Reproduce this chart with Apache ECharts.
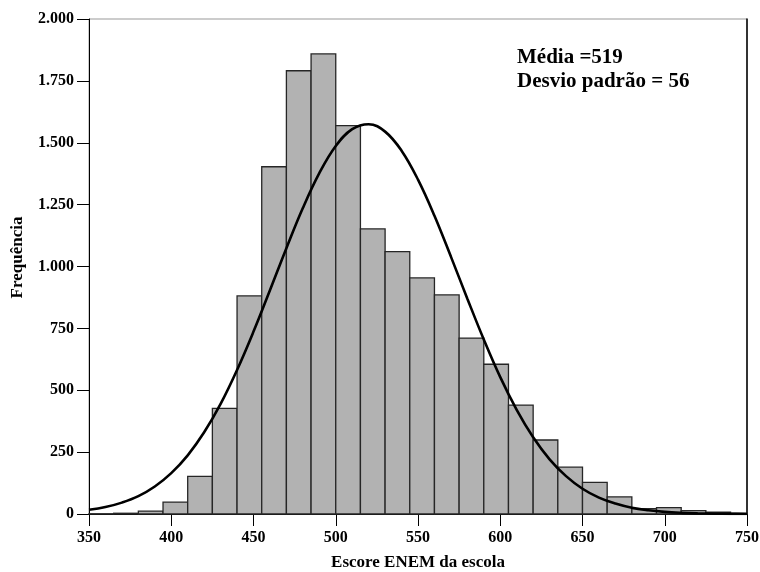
<!DOCTYPE html>
<html>
<head>
<meta charset="utf-8">
<script src="https://cdn.jsdelivr.net/npm/echarts@6/dist/echarts.min.js"></script>
<style>html,body{margin:0;padding:0;background:#fff;}#c{width:760px;height:572px;}</style>
</head>
<body>
<div id="c"></div>
<script>
// Histogram bins (start of each 15-point bin) and frequencies
const binWidth = 15;
const binStarts = [350,365,380,395,410,425,440,455,470,485,500,515,530,545,560,575,590,605,620,635,650,665,680,695,710,725,740];
const binCounts = [1,3,12,48,152,427,881,1403,1791,1859,1569,1152,1060,954,885,711,605,440,299,189,128,69,22,26,14,7,3];

// Fitted normal curve (x, frequency)
const curveX = [350,360,370,380,390,400,410,420,430,440,450,460,470,480,490,500,510,520,530,540,550,560,570,580,590,600,610,620,630,640,650,660,670,680,690,700,710,720,730,740,750];
const curveY = [17,28,46,72,111,165,237,330,445,582,737,904,1074,1236,1377,1487,1555,1575,1545,1468,1351,1205,1040,870,705,553,421,310,221,153,102,66,42,25,15,8.5,4.7,2.5,1.3,0.7,0.3];

// Axis ticks
const xTicks = {min: 350, max: 750, interval: 50};
const yTicks = {min: 0, max: 2000, interval: 250};

const annotation = ['Média =519', 'Desvio padrão = 56'];
const xName = 'Escore ENEM da escola';
const yName = 'Frequência';

const serif = '"Liberation Serif", "DejaVu Serif", serif';

function fmt(v){
  if (v >= 1000) return Math.floor(v/1000) + '.' + String(v % 1000).padStart(3,'0');
  return String(v);
}

const histData = binStarts.map((s,i) => [s, s + binWidth, binCounts[i]]);
const curveData = curveX.map((x,i) => [x, curveY[i]]);

const chart = echarts.init(document.getElementById('c'), null, {renderer:'canvas'});
chart.setOption({
  backgroundColor: '#fff',
  animation: false,
  grid: {left: 89, right: 13, top: 19, bottom: 58, outerBoundsMode: 'none', containLabel: false,
         show: true, borderColor: '#999', borderWidth: 1, backgroundColor: 'transparent'},
  xAxis: {
    type: 'value', min: xTicks.min, max: xTicks.max, interval: xTicks.interval,
    name: xName, nameLocation: 'middle', nameGap: 40, nameMoveOverlap: false,
    nameTextStyle: {fontFamily: serif, fontWeight: 'bold', fontSize: 17, color: '#000'},
    axisLine: {show: true, onZero: false, lineStyle: {color: '#000', width: 1}},
    axisTick: {show: true, inside: false, length: 12, lineStyle: {color: '#000'}},
    axisLabel: {fontFamily: serif, fontWeight: 'bold', fontSize: 16, color: '#000', margin: 16},
    splitLine: {show: false}
  },
  yAxis: [{
    type: 'value', min: yTicks.min, max: yTicks.max, interval: yTicks.interval,
    name: yName, nameLocation: 'middle', nameGap: 63, nameRotate: 90, nameMoveOverlap: false,
    nameTextStyle: {fontFamily: serif, fontWeight: 'bold', fontSize: 17, color: '#000', padding: [0, 0, 0, 18]},
    axisLine: {show: true, lineStyle: {color: '#000', width: 1}},
    axisTick: {show: true, inside: false, length: 12, lineStyle: {color: '#000'}},
    axisLabel: {fontFamily: serif, fontWeight: 'bold', fontSize: 16, color: '#000', margin: 15, formatter: fmt},
    splitLine: {show: false}
  },{
    type: 'value', min: yTicks.min, max: yTicks.max, interval: yTicks.interval, position: 'right',
    axisLine: {show: true, lineStyle: {color: '#000', width: 1.5}},
    axisTick: {show: false}, axisLabel: {show: false}, splitLine: {show: false}
  }],
  graphic: [{
    type: 'text', left: 517, top: 46,
    style: {text: annotation.join('\n'), font: 'bold 21px ' + serif, fill: '#000', lineHeight: 24}
  }],
  series: [{
    type: 'custom',
    data: histData,
    z: 2,
    renderItem: function(params, api){
      const p0 = api.coord([api.value(0), api.value(2)]);
      const p1 = api.coord([api.value(1), 0]);
      const cs = params.coordSys;
      const r = echarts.graphic.clipRectByRect(
        {x: p0[0], y: p0[1], width: p1[0]-p0[0], height: p1[1]-p0[1]},
        {x: cs.x, y: cs.y, width: cs.width, height: cs.height});
      if (!r) return null;
      return {type: 'rect', shape: r, style: {fill: '#b2b2b2', stroke: '#262626', lineWidth: 1.3}};
    }
  },{
    type: 'line',
    data: curveData,
    smooth: 0.4,
    symbol: 'none',
    z: 3,
    lineStyle: {color: '#000', width: 2.6}
  }]
});
</script>
</body>
</html>
